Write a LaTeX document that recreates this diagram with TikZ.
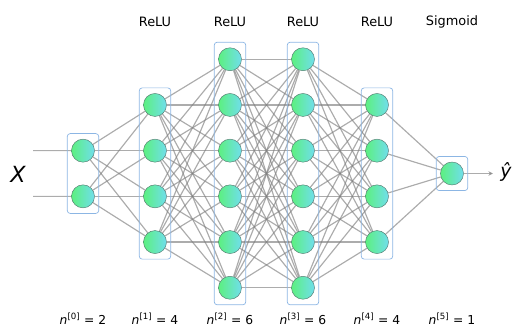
\documentclass[tikz,border=0pt]{standalone}
\usepackage{fontspec}
\setmainfont{DejaVu Sans}
\usetikzlibrary{positioning,arrows.meta,fit,backgrounds}
\definecolor{nodegreen}{RGB}{92,240,128}
\definecolor{nodecyan}{RGB}{112,222,236}
\definecolor{boxblue}{RGB}{140,182,228}
\definecolor{rimgray}{RGB}{84,122,112}
\tikzset{
  unit/.style={circle, draw=rimgray, thin, left color=nodegreen, right color=nodecyan, minimum size=0.69cm, inner sep=0pt},
  layerbox/.style={draw=boxblue, rounded corners=2.5pt, semithick, inner xsep=0.12cm, inner ysep=0.16cm},
  wire/.style={draw=gray, opacity=0.65, line width=1pt},
  actlabel/.style={font=\fontsize{11}{13}\selectfont},
  sizelabel/.style={font=\fontsize{10.5}{12}\selectfont}
}

\begin{document}
\begin{tikzpicture}[x=0.03cm, y=-0.03cm, >=Latex]
  \useasboundingbox (0,0) rectangle (514,327);
  % units of each layer, with the box round them
  \foreach \n/\x [count=\l from 0] in {2/83, 4/155, 6/230, 6/303, 4/377, 1/452} {
    \foreach \i in {1,...,\n}
      \node[unit] (a\l-\i) at (\x, {173.5 + (\i - (\n+1)/2)*45.7}) {};
    \node[layerbox, fit=(a\l-1)(a\l-\n)] (box\l) {};
    \node[sizelabel] (size\l) at (\x, 319) {\textit{n}\textsuperscript{[\l]} = \n};
  }
  % activations
  \node[actlabel] (act1) at (155,22) {ReLU};
  \node[actlabel] (act2) at (230,22) {ReLU};
  \node[actlabel] (act3) at (303,22) {ReLU};
  \node[actlabel] (act4) at (377,22) {ReLU};
  \node[actlabel] (act5) at (452,22) {Sigmoid};
  % input and output
  \node[font=\fontsize{19}{21}\selectfont\itshape] (xin) at (18,174) {X};
  \node[font=\fontsize{16}{18}\selectfont\itshape] (yhat) at (506,172) {ŷ};
  \coordinate (in1) at (33,150.6);
  \coordinate (in2) at (33,196.4);
  \coordinate (out) at (493,173.5);
  \begin{pgfonlayer}{background}
    \draw[wire] (in1) -- (a0-1);
    \draw[wire] (in2) -- (a0-2);
    \draw[wire, -{Stealth[length=4pt, width=4pt]}] (a5-1) -- (out);
    % fully connected weights
    \foreach \p/\np/\q/\nq in {0/2/1/4, 1/4/2/6, 2/6/3/6, 3/6/4/4, 4/4/5/1}
      \foreach \i in {1,...,\np}
        \foreach \j in {1,...,\nq}
          \draw[wire] (a\p-\i) -- (a\q-\j);
  \end{pgfonlayer}
\end{tikzpicture}
\end{document}
